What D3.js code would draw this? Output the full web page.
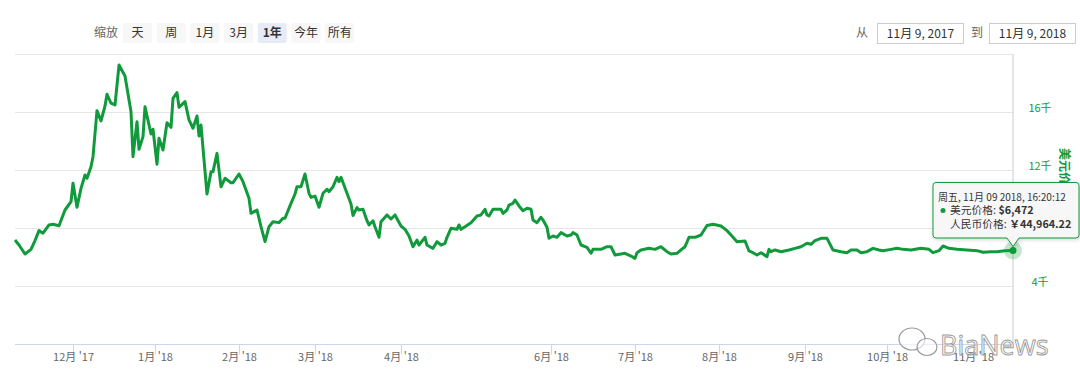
<!DOCTYPE html>
<html lang="zh">
<head>
<meta charset="utf-8">
<script src="https://cdn.jsdelivr.net/npm/d3@7/dist/d3.min.js"></script>
<style>
body { margin: 0; background: #fff; }
svg { font-family: "Noto Sans CJK SC", "Noto Sans", sans-serif; }
</style>
</head>
<body>
<script>
// ordinal axis: position of each sample (0..499), price in USD
var pos = [0,2,5,8,10,12,14,17,19,22,25,28,29,31,33,35,36,38,39,41,
  43,45,46,48,50,52,55,58,59,61,62,64,65,68,69,71,72,74,76,78,
  79,81,82,85,87,89,91,92,93,96,98,99,101,103,105,108,109,112,114,117,
  118,121,123,125,127,129,132,134,135,138,140,141,143,145,147,148,150,152,154,156,
  157,159,161,162,163,166,168,169,171,172,174,176,177,179,180,182,183,186,188,190,
  193,195,197,199,201,202,205,206,209,211,213,215,216,218,221,222,223,225,228,231,
  233,235,236,237,239,243,244,246,247,249,250,252,254,256,258,259,261,263,264,266,
  267,269,271,273,276,278,279,281,283,286,288,289,293,296,298,300,303,305,308,310,
  311,313,317,320,323,326,328,331,333,335,337,340,343,346,349,353,356,358,361,365,
  367,369,371,373,376,377,378,380,383,387,390,393,396,398,400,403,406,409,413,416,
  418,421,423,426,429,432,434,438,441,444,448,453,457,459,462,464,467,471,476,481,
  484,488,491,495,499];
var usd = [7190,6850,6230,6550,7150,7840,7660,8230,8280,8180,
  9260,9830,11100,9450,10750,11670,11440,12240,12930,16100,
  15390,16420,17230,16610,16490,19240,18490,16030,12930,15340,
  13440,14310,16370,14490,14820,12410,14200,13390,15270,14950,
  16950,17340,16330,16720,15460,14890,15730,14360,15110,10360,
  11900,11900,13160,10860,11440,11140,11140,11740,11210,10070,
  9030,9260,8110,7080,8110,8450,8390,8690,8690,9720,
  10360,10860,10860,11740,10410,10130,10220,9450,10410,10690,
  10520,10860,11510,11210,11510,10410,9670,8880,9420,9260,
  9310,8520,8230,8520,8110,7380,8450,8920,8640,8920,
  8160,7930,7470,6730,7190,6850,7380,6850,6620,7080,
  6850,6970,7380,8000,7930,8230,7930,8110,8390,8850,
  8920,9310,8920,8850,9310,9310,9030,9260,9600,9720,
  9950,9540,9210,9380,9310,8570,8390,8760,8570,8070,
  7310,7470,7380,7700,7470,7540,7700,7540,6850,6690,
  6280,6550,6550,6730,6730,6160,6230,6280,6090,5930,
  6320,6510,6620,6550,6730,6390,6230,6280,6510,6730,
  7380,7380,7540,8190,8280,8160,7840,7540,7080,7130,
  6440,6320,6160,6320,6050,6550,6390,6510,6390,6510,
  6620,6730,6970,6900,7150,7310,7310,6510,6390,6320,
  6510,6510,6320,6390,6620,6510,6460,6550,6620,6550,
  6510,6620,6550,6320,6460,6780,6620,6550,6510,6460,
  6350,6390,6390,6460,6472];
var monthLabels = ["12月 '17","1月 '18","2月 '18","3月 '18","4月 '18","6月 '18","7月 '18","8月 '18","9月 '18","10月 '18","11月 '18"];
var monthPos = [29,70,112,150,193,268,310,352,395,436,479];
var yTicks = [4000,8000,12000,16000,20000];
var zoomButtons = ["天","周","1月","3月","1年","今年","所有"];
var selectedButton = "1年";
var rangeFrom = "11月 9, 2017", rangeTo = "11月 9, 2018";
var tipLines = ["周五, 11月 09 2018, 16:20:12", "美元价格: ", "$6,472", "人民币价格: ", "￥44,964.22"];

var W = 1080, H = 388;
var green = "#119a3c";

var svg = d3.select("body").append("svg")
  .attr("width", W).attr("height", H);

var x = d3.scaleLinear().domain([0, 499]).range([15, 1013]);
var y = d3.scaleLinear().domain([0, 20000]).range([344.5, 54]);

var last = pos.length - 1;
var px = x(pos[last]), py = y(usd[last]);
// tooltip box bounds
var tl = px - 80, tt = py - 68, tb = py - 12.5, tr = 1079;

// grid
svg.append("g").selectAll("line")
  .data(yTicks).enter().append("line")
  .attr("x1", 15).attr("x2", 1013)
  .attr("y1", function(d) { return Math.round(y(d)) + 0.5; })
  .attr("y2", function(d) { return Math.round(y(d)) + 0.5; })
  .attr("stroke", "#e6e6e6");

// right axis labels (the one under the tooltip is hidden)
svg.append("g").selectAll("text")
  .data(yTicks.filter(function(d) { return d < 20000 && (y(d) < tt || y(d) > tb + 10); })).enter().append("text")
  .attr("x", 1040).attr("y", function(d) { return y(d) - 0.5; })
  .attr("text-anchor", "middle")
  .attr("font-size", 11).attr("fill", green)
  .text(function(d) { return (d / 1000) + "千"; });

// axis title, partly covered by the tooltip
svg.append("defs").append("clipPath").attr("id", "titleClip")
  .append("rect").attr("x", 1040).attr("y", 0).attr("width", 40).attr("height", tt);
svg.append("g").attr("clip-path", "url(#titleClip)")
  .append("text")
  .attr("transform", "translate(1060,172) rotate(90)")
  .attr("text-anchor", "middle")
  .attr("font-size", 12).attr("font-weight", "bold").attr("fill", green)
  .text("美元价格");

// x axis
var xAxis = d3.axisBottom(x)
  .tickValues(monthPos)
  .tickSize(10)
  .tickFormat(function(d, i) { return monthLabels[i]; });
var gx = svg.append("g").attr("transform", "translate(0,344.5)").call(xAxis);
gx.select(".domain").attr("stroke", "#ccd6eb").attr("d", "M15,0H1013");
gx.selectAll(".tick line").attr("stroke", "#ccd6eb");
gx.selectAll(".tick text").attr("fill", "#666").attr("font-size", 11)
  .attr("font-family", "\"Noto Sans CJK SC\", sans-serif").attr("dy", "0.3em");

// crosshair at the hovered point
svg.append("line")
  .attr("x1", px).attr("x2", px).attr("y1", 54).attr("y2", 344.5)
  .attr("stroke", "#cccccc");

// price line
var line = d3.line()
  .x(function(d, i) { return x(pos[i]); })
  .y(function(d) { return y(d); });
svg.append("path").datum(usd)
  .attr("d", line)
  .attr("fill", "none")
  .attr("stroke", green)
  .attr("stroke-width", 3)
  .attr("stroke-linejoin", "round");

// hover marker
svg.append("circle").attr("cx", px).attr("cy", py).attr("r", 9)
  .attr("fill", green).attr("opacity", 0.25);
svg.append("circle").attr("cx", px).attr("cy", py).attr("r", 3.5)
  .attr("fill", green);

// tooltip
var tip = svg.append("g");
tip.append("path")
  .attr("d", "M" + (tl + 3) + "," + tt + "H" + (tr - 3) + "Q" + tr + "," + tt + " " + tr + "," + (tt + 3) +
    "V" + (tb - 3) + "Q" + tr + "," + tb + " " + (tr - 3) + "," + tb +
    "H" + (px + 6) + "L" + px + "," + (py - 4) + "L" + (px - 6) + "," + tb +
    "H" + (tl + 3) + "Q" + tl + "," + tb + " " + tl + "," + (tb - 3) +
    "V" + (tt + 3) + "Q" + tl + "," + tt + " " + (tl + 3) + "," + tt + "Z")
  .attr("fill", "rgba(250,250,250,0.92)")
  .attr("stroke", green).attr("stroke-width", 1)
  .style("filter", "drop-shadow(1px 1px 2px rgba(0,0,0,0.2))");
tip.append("text").attr("x", tl + 5).attr("y", tt + 19)
  .attr("font-size", 10).attr("fill", "#333").text(tipLines[0]);
tip.append("circle").attr("cx", tl + 10).attr("cy", tt + 28).attr("r", 2.5).attr("fill", green);
var t2 = tip.append("text").attr("x", tl + 17).attr("y", tt + 32)
  .attr("font-size", 12).attr("fill", "#333");
t2.append("tspan").text(tipLines[1]);
t2.append("tspan").attr("font-weight", "bold").text(tipLines[2]);
var t3 = tip.append("text").attr("x", tl + 17).attr("y", tt + 46)
  .attr("font-size", 12).attr("fill", "#333");
t3.append("tspan").text(tipLines[3]);
t3.append("tspan").attr("font-weight", "bold").text(tipLines[4]);
// shrink the value lines until they fit inside the box
var room = tr - 5 - (tl + 17), fs = 12;
while (fs > 9 && t3.node().getComputedTextLength() > room) {
  fs -= 0.25;
  t2.attr("font-size", fs); t3.attr("font-size", fs);
}

// range selector buttons
var bar = svg.append("g");
bar.append("text").attr("x", 106).attr("y", 37)
  .attr("text-anchor", "middle").attr("font-size", 12).attr("fill", "#666").text("缩放");
var btn = bar.selectAll("g.btn").data(zoomButtons).enter().append("g")
  .attr("class", "btn")
  .attr("transform", function(d, i) { return "translate(" + (123 + i * 33.7) + ",23)"; });
btn.append("rect").attr("width", 29).attr("height", 20).attr("rx", 2)
  .attr("fill", function(d) { return d === selectedButton ? "#e6ebf5" : "#f7f7f7"; });
btn.append("text").attr("x", 14.5).attr("y", 14)
  .attr("text-anchor", "middle").attr("font-size", 12)
  .attr("font-weight", function(d) { return d === selectedButton ? "bold" : "normal"; })
  .attr("fill", "#333").text(function(d) { return d; });

// date inputs
var inputs = [{lab: "从", lx: 862, bx: 877, v: rangeFrom}, {lab: "到", lx: 977, bx: 989, v: rangeTo}];
var inp = svg.selectAll("g.inp").data(inputs).enter().append("g").attr("class", "inp");
inp.append("text").attr("x", function(d) { return d.lx; }).attr("y", 37)
  .attr("text-anchor", "middle").attr("font-size", 12).attr("fill", "#666")
  .text(function(d) { return d.lab; });
inp.append("rect").attr("x", function(d) { return d.bx + 0.5; }).attr("y", 23.5)
  .attr("width", 86).attr("height", 20)
  .attr("fill", "#fff").attr("stroke", "#cccccc");
inp.append("text").attr("x", function(d) { return d.bx + 43.5; }).attr("y", 38)
  .attr("text-anchor", "middle").attr("font-size", 12).attr("fill", "#333")
  .text(function(d) { return d.v; });

// watermark
var wm = svg.append("g").attr("fill", "none").attr("stroke", "#9a9a9a").attr("stroke-width", 1.2);
wm.append("ellipse").attr("cx", 912).attr("cy", 339).attr("rx", 13).attr("ry", 11).attr("fill", "rgba(255,255,255,0.6)");
wm.append("ellipse").attr("cx", 927).attr("cy", 347).attr("rx", 10).attr("ry", 8.5).attr("fill", "rgba(255,255,255,0.6)");
svg.append("text").attr("x", 940).attr("y", 355)
  .attr("font-family", "\"Open Sans\", sans-serif").attr("font-size", 27)
  .attr("fill", "rgba(255,255,255,0.7)").attr("stroke", "#9a9a9a").attr("stroke-width", 0.9)
  .text("BiaNews");
</script>
</body>
</html>
